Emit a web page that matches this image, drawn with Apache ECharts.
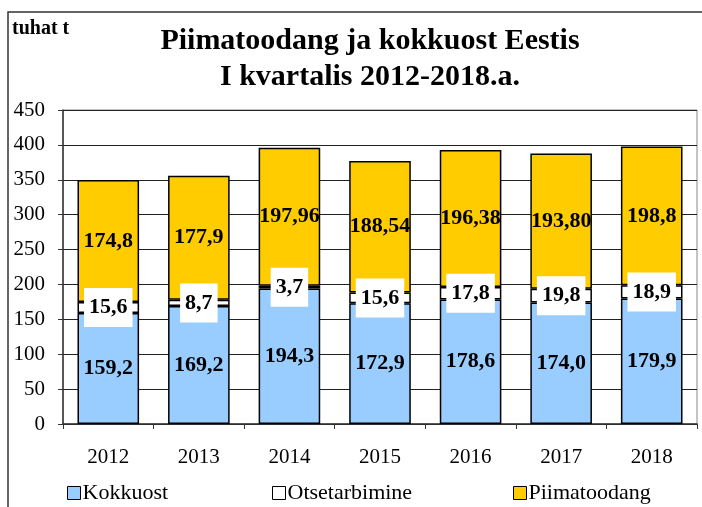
<!DOCTYPE html>
<html>
<head>
<meta charset="utf-8">
<script src="https://cdn.jsdelivr.net/npm/echarts@6/dist/echarts.min.js"></script>
<style>
  html, body { margin: 0; padding: 0; background: #fff; }
  #main { width: 702px; height: 507px; }
</style>
</head>
<body>
<div id="main"></div>
<script>
// andmed
var years = ['2012', '2013', '2014', '2015', '2016', '2017', '2018'];
var kokkuost = [159.2, 169.2, 194.3, 172.9, 178.6, 174.0, 179.9];
var otsetarbimine = [15.6, 8.7, 3.7, 15.6, 17.8, 19.8, 18.9];
var piimatoodang = [174.8, 177.9, 197.96, 188.54, 196.38, 193.80, 198.8];
var piimaKohti = [1, 1, 2, 2, 2, 2, 1]; // komakohtade arv sildil
var yMax = 450, yStep = 50;

var serif = '"Liberation Serif", "DejaVu Serif", serif';

function fmt(v, d) {
	return v.toFixed(d).replace('.', ',');
}

var labelBase = {
	show: true,
	position: 'inside',
	fontFamily: serif,
	fontSize: 22,
	fontWeight: 'bold',
	color: '#000'
};

var chart = echarts.init(document.getElementById('main'));
var option = {
	animation: false,
	title: {
		text: 'Piimatoodang ja kokkuost Eestis\nI kvartalis 2012-2018.a.',
		left: 365,
		top: 18,
		textAlign: 'center',
		textStyle: {
			fontFamily: serif,
			fontSize: 30,
			fontWeight: 'bold',
			color: '#000',
			lineHeight: 36
		}
	},
	graphic: [{
		type: 'rect',
		shape: { x: 8, y: 12, width: 720, height: 600 },
		style: { fill: 'none', stroke: '#333', lineWidth: 1.5 },
		silent: true
	}, {
		type: 'text',
		left: 12,
		top: 19,
		style: {
			text: 'tuhat t',
			font: 'bold 20px ' + serif,
			fill: '#000'
		}
	}],
	legend: [
		{ data: ['Kokkuost'], left: 62 },
		{ data: ['Otsetarbimine'], left: 267 },
		{ data: ['Piimatoodang'], left: 508 }
	].map(function (l) {
		l.top = 477;
		l.padding = 5;
		l.icon = 'rect';
		l.itemWidth = 13;
		l.itemHeight = 13;
		l.itemStyle = { borderColor: '#000', borderWidth: 1 };
		l.textStyle = { fontFamily: serif, fontSize: 22, color: '#000', padding: [0, 0, 0, -3] };
		return l;
	}),
	grid: {
		left: 63,
		right: 5,
		top: 110,
		bottom: 83,
		show: true,
		borderColor: '#888',
		borderWidth: 1
	},
	xAxis: {
		type: 'category',
		data: years,
		axisLine: { lineStyle: { color: '#333', width: 1.5 } },
		axisTick: { show: true, length: 5, lineStyle: { color: '#333' } },
		axisLabel: { margin: 23, fontFamily: serif, fontSize: 21, color: '#000' }
	},
	yAxis: {
		type: 'value',
		min: 0,
		max: yMax,
		interval: yStep,
		axisLine: { show: true, lineStyle: { color: '#333', width: 1.5 } },
		axisTick: { show: true, length: 5, lineStyle: { color: '#333' } },
		axisLabel: { margin: 18, fontFamily: serif, fontSize: 21, color: '#000' },
		splitLine: { lineStyle: { color: '#222', width: 1 } }
	},
	series: [{
		name: 'Kokkuost',
		type: 'bar',
		stack: 'kokku',
		barWidth: '68%',
		data: kokkuost,
		itemStyle: { color: '#99CCFF', borderColor: '#000', borderWidth: 1.5 },
		label: Object.assign({}, labelBase, {
			formatter: function (p) { return fmt(p.value, 1); }
		})
	}, {
		name: 'Otsetarbimine',
		type: 'bar',
		stack: 'kokku',
		data: otsetarbimine,
		itemStyle: { color: '#FFFFFF', borderColor: '#000', borderWidth: 1.5 },
		label: Object.assign({}, labelBase, {
			backgroundColor: '#fff',
			padding: [9, 5, 8, 5],
			formatter: function (p) { return fmt(p.value, 1); }
		})
	}, {
		name: 'Piimatoodang',
		type: 'bar',
		stack: 'kokku',
		data: piimatoodang,
		itemStyle: { color: '#FFCC00', borderColor: '#000', borderWidth: 1.5 },
		label: Object.assign({}, labelBase, {
			formatter: function (p) { return fmt(p.value, piimaKohti[p.dataIndex]); }
		})
	}]
};
chart.setOption(option);
</script>
</body>
</html>
